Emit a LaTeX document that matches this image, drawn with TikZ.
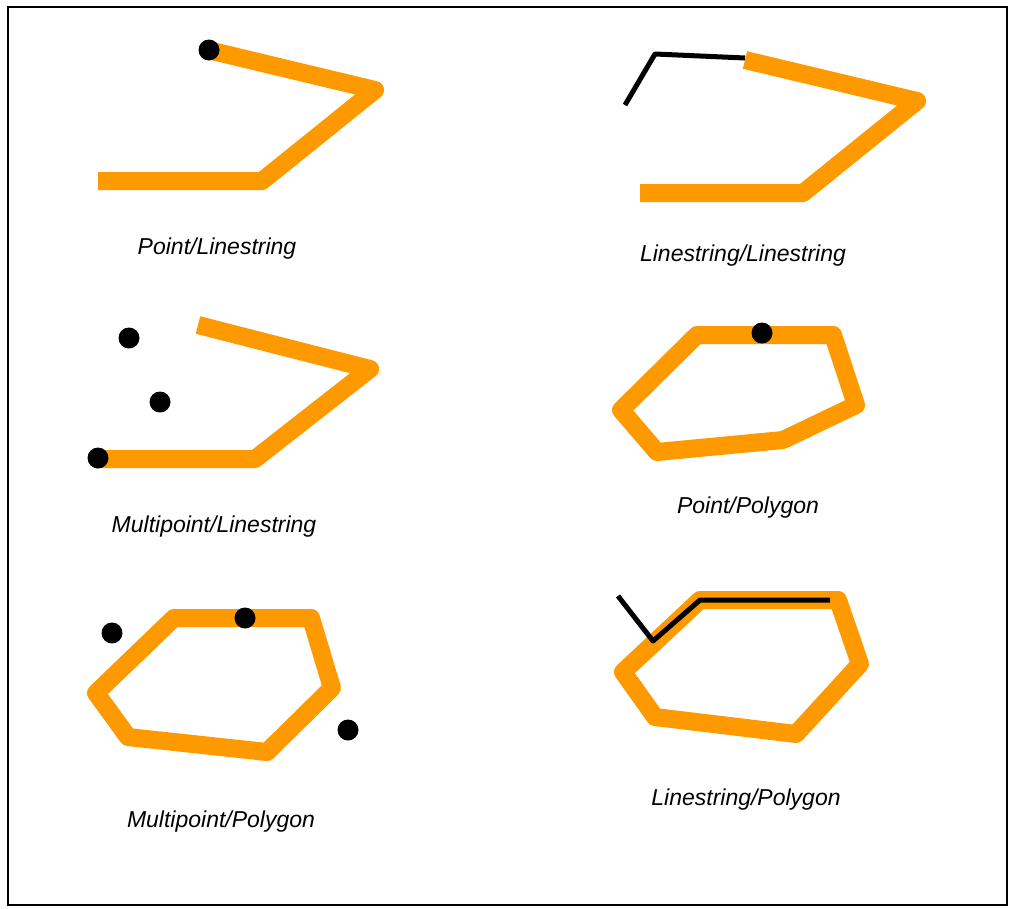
\documentclass[tikz,border=0pt]{standalone}
\usepackage{fontspec}
\setmainfont{Liberation Sans}
\definecolor{geoorange}{RGB}{255,153,0}
\begin{document}
\begin{tikzpicture}[x=1pt,y=-1pt,
  geom/.style={draw=geoorange,line width=18pt,line join=round,line cap=butt},
  probe/.style={draw=black,line width=5pt,line join=round},
  pt/.style={fill=black},
  lbl/.style={font=\fontsize{23}{27}\selectfont\itshape,inner sep=0pt}]
\useasboundingbox (0,0) rectangle (1009,908);
\fill[white] (0,0) rectangle (1009,908);
\draw[line width=2pt] (7.5,6.5) rectangle (1006.5,905);
% Panel 1: Point/Linestring
\draw[geom] (98,181) -- (262,181) -- (375,90) -- (208,50);
\fill[pt] (209,50) circle (10.5);
\node[lbl] (l1) at (217,249) {Point/Linestring};
% Panel 2: Linestring/Linestring
\draw[geom] (745,60) -- (917,101) -- (803,193) -- (640,193);
\draw[probe] (625,105) -- (655,54) -- (745,58);
\node[lbl] (l2) at (743,256) {Linestring/Linestring};
% Panel 3: Multipoint/Linestring
\draw[geom] (198,325) -- (370,369) -- (255,459) -- (95,459);
\fill[pt] (129,338) circle (10.5);
\fill[pt] (160,402) circle (10.5);
\fill[pt] (98,458) circle (10.5);
\node[lbl] (l3) at (214,527) {Multipoint/Linestring};
% Panel 4: Point/Polygon
\draw[geom] (697,335) -- (833,335) -- (856,405) -- (783,440) -- (657,452) -- (621,410) -- cycle;
\fill[pt] (762,333) circle (10.5);
\node[lbl] (l4) at (748,508) {Point/Polygon};
% Panel 5: Multipoint/Polygon
\draw[geom] (174,618) -- (311,618) -- (332,688) -- (267,752) -- (128,737) -- (96,693) -- cycle;
\fill[pt] (112,633) circle (10.5);
\fill[pt] (245,618) circle (10.5);
\fill[pt] (348,730) circle (10.5);
\node[lbl] (l5) at (221,822) {Multipoint/Polygon};
% Panel 6: Linestring/Polygon
\draw[geom] (700,600) -- (838,600) -- (860,664) -- (796,734) -- (655,717) -- (623,672) -- cycle;
\draw[probe] (618,596) -- (653,641) -- (700,600) -- (830,600);
\node[lbl] (l6) at (746,800) {Linestring/Polygon};
\end{tikzpicture}
\end{document}
